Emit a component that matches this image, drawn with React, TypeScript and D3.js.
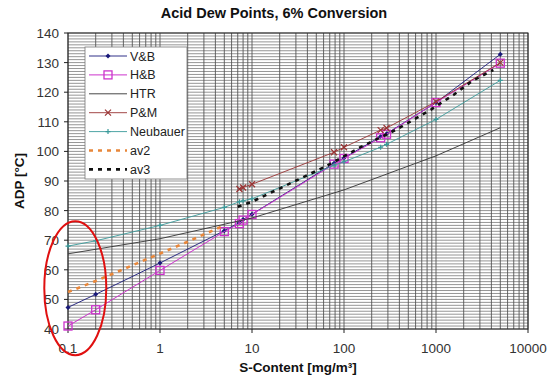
import React from 'react'
import * as d3 from 'd3'

// S-Content points (mg/m³) shared by the measured series
const sPts = [0.1, 0.2, 1, 5, 7.3, 8, 10, 78, 100, 250, 290, 1000, 5000]
const vbVals = [47.3, 51.7, 62.3, 73.2, 76, 77, 78.8, 96, 97.8, 105, 106, 116.5, 132.8]
const hbVals = [41, 46.5, 59.8, 72.9, 75.6, 76.8, 78.7, 95.7, 97.6, 104.6, 105.8, 116.5, 129.8]
const nbVals = [68, 69.8, 75, 81.1, 83, 83.3, 84, 95.3, 96.5, 101.4, 102.4, 110.8, 124]

const pmS = [7.3, 8, 10, 78, 100, 250, 290, 1000, 5000]
const pmVals = [87.3, 87.8, 88.9, 99.7, 101.4, 107.2, 107.9, 116.8, 130]

const htrS = [0.1, 1, 10, 100, 1000, 5000]
const htrVals = [65.4, 70.5, 77.5, 87, 98.5, 108]

const av2S = [0.1, 0.2, 0.5, 1, 2, 5]
const av2Vals = [52.5, 56.2, 61.5, 65.5, 69.5, 75]

const av3S = [7, 10, 62, 155, 367, 890, 1600, 2500, 4200]
const av3Vals = [81.3, 83, 94.8, 101.6, 107.3, 114.2, 119.4, 123.9, 127.5]

const xTicks = [0.1, 1, 10, 100, 1000, 10000]
const yTicks = [40, 50, 60, 70, 80, 90, 100, 110, 120, 130, 140]

const W = 560
const H = 380
const FONT = '"Liberation Sans", Arial, sans-serif'

type Series = {
  name: string
  xs: number[]
  ys: number[]
  color: string
  width: number
  dash?: string
  marker?: 'diamond' | 'square' | 'x' | 'plus'
}

const series: Series[] = [
  { name: 'V&B', xs: sPts, ys: vbVals, color: '#1a1a7a', width: 0.9, marker: 'diamond' },
  { name: 'H&B', xs: sPts, ys: hbVals, color: '#cc33cc', width: 1, marker: 'square' },
  { name: 'HTR', xs: htrS, ys: htrVals, color: '#333333', width: 0.9 },
  { name: 'P&M', xs: pmS, ys: pmVals, color: '#993333', width: 0.9, marker: 'x' },
  { name: 'Neubauer', xs: sPts, ys: nbVals, color: '#3a9a9a', width: 0.9, marker: 'plus' },
  { name: 'av2', xs: av2S, ys: av2Vals, color: '#e8873a', width: 2.6, dash: '4,5' },
  { name: 'av3', xs: av3S, ys: av3Vals, color: '#111111', width: 2.6, dash: '4,5' },
]

const Marker = ({ type, x, y, color }: { type?: string; x: number; y: number; color: string }) => {
  if (type === 'diamond') {
    return <path d={`M${x},${y - 2.5}L${x + 2.5},${y}L${x},${y + 2.5}L${x - 2.5},${y}Z`} fill={color} />
  }
  if (type === 'square') {
    return <rect x={x - 4} y={y - 4} width={8} height={8} fill="none" stroke={color} strokeWidth={1.3} />
  }
  if (type === 'x') {
    return (
      <path d={`M${x - 3},${y - 3}L${x + 3},${y + 3}M${x - 3},${y + 3}L${x + 3},${y - 3}`} stroke={color} strokeWidth={1.2} />
    )
  }
  if (type === 'plus') {
    return <path d={`M${x - 2.5},${y}L${x + 2.5},${y}M${x},${y - 2.5}L${x},${y + 2.5}`} stroke={color} strokeWidth={1.2} />
  }
  return null
}

export default function App() {
  const x = d3.scaleLog().domain([0.1, 10000]).range([68, 528])
  const y = d3.scaleLinear().domain([40, 140]).range([329, 33])

  const line = d3
    .line<[number, number]>()
    .x(d => x(d[0]))
    .y(d => y(d[1]))

  // grid lines
  const vGrid: number[] = []
  for (let e = -1; e < 4; e++) {
    for (let m = 1; m <= 9; m++) vGrid.push(m * Math.pow(10, e))
  }
  vGrid.push(10000)
  const hGrid = d3.range(40, 141, 1)

  const [x0, x1] = x.range()
  const [y0, y1] = y.range()

  // legend
  const lgX = 85
  const lgY = 47
  const lgW = 102
  const lgH = 132
  const rowH = 18.9

  return (
    <div style={{ position: 'absolute', left: 0, top: 0 }}>
      <svg width={W} height={H} style={{ display: 'block', background: '#fff', fontFamily: FONT }}>
        <text x={274} y={18} textAnchor="middle" fontSize={14.5} fontWeight="bold" fill="#111">
          Acid Dew Points, 6% Conversion
        </text>

        {/* grid */}
        {hGrid.map(v => (
          <line key={'h' + v} x1={x0} x2={x1} y1={y(v)} y2={y(v)} stroke="#7a7a7a" strokeWidth={0.8} />
        ))}
        {vGrid.map(v => (
          <line key={'v' + v} x1={x(v)} x2={x(v)} y1={y0} y2={y1} stroke="#555" strokeWidth={0.9} />
        ))}
        <rect x={x0} y={y1} width={x1 - x0} height={y0 - y1} fill="none" stroke="#222" strokeWidth={1} />

        {/* axes ticks & labels */}
        {yTicks.map(t => (
          <g key={'yt' + t}>
            <line x1={x0 - 4} x2={x0} y1={y(t)} y2={y(t)} stroke="#222" />
            <text x={x0 - 9} y={y(t) + 5} textAnchor="end" fontSize={13.5} fill="#333">
              {t}
            </text>
          </g>
        ))}
        {xTicks.map(t => (
          <g key={'xt' + t}>
            <line x1={x(t)} x2={x(t)} y1={y0} y2={y0 + 4} stroke="#222" />
            <text x={x(t)} y={y0 + 24} textAnchor="middle" fontSize={13.5} fill="#333">
              {t}
            </text>
          </g>
        ))}
        <text
          transform={`translate(24,${(y0 + y1) / 2}) rotate(-90)`}
          textAnchor="middle"
          fontSize={13.5}
          fontWeight="bold"
          fill="#111"
        >
          ADP [°C]
        </text>
        <text x={(x0 + x1) / 2} y={372} textAnchor="middle" fontSize={13.5} fontWeight="bold" fill="#111">
          S-Content [mg/m³]
        </text>

        {/* series */}
        {series.map(s => {
          const pts = s.xs.map((v, i) => [v, s.ys[i]] as [number, number])
          return (
            <g key={s.name}>
              <path
                d={line(pts) || ''}
                fill="none"
                stroke={s.color}
                strokeWidth={s.width}
                strokeDasharray={s.dash}
              />
              {s.marker &&
                pts.map((p, i) => <Marker key={i} type={s.marker} x={x(p[0])} y={y(p[1])} color={s.color} />)}
            </g>
          )
        })}

        {/* legend */}
        <rect x={lgX} y={lgY} width={lgW} height={lgH} fill="#fff" stroke="#777" strokeWidth={0.8} />
        {series.map((s, i) => {
          const cy = lgY + 9 + i * rowH
          return (
            <g key={'lg' + s.name}>
              <line
                x1={lgX + 4}
                x2={lgX + 42}
                y1={cy}
                y2={cy}
                stroke={s.color}
                strokeWidth={s.width}
                strokeDasharray={s.dash}
              />
              <Marker type={s.marker} x={lgX + 23} y={cy} color={s.color} />
              <text x={lgX + 45} y={cy + 4.5} fontSize={12.5} fill="#222">
                {s.name}
              </text>
            </g>
          )
        })}

        {/* annotation ellipse */}
        <ellipse cx={x(0.12)} cy={y(53.8)} rx={31} ry={67} fill="none" stroke="#e01010" strokeWidth={2} />
      </svg>
    </div>
  )
}
